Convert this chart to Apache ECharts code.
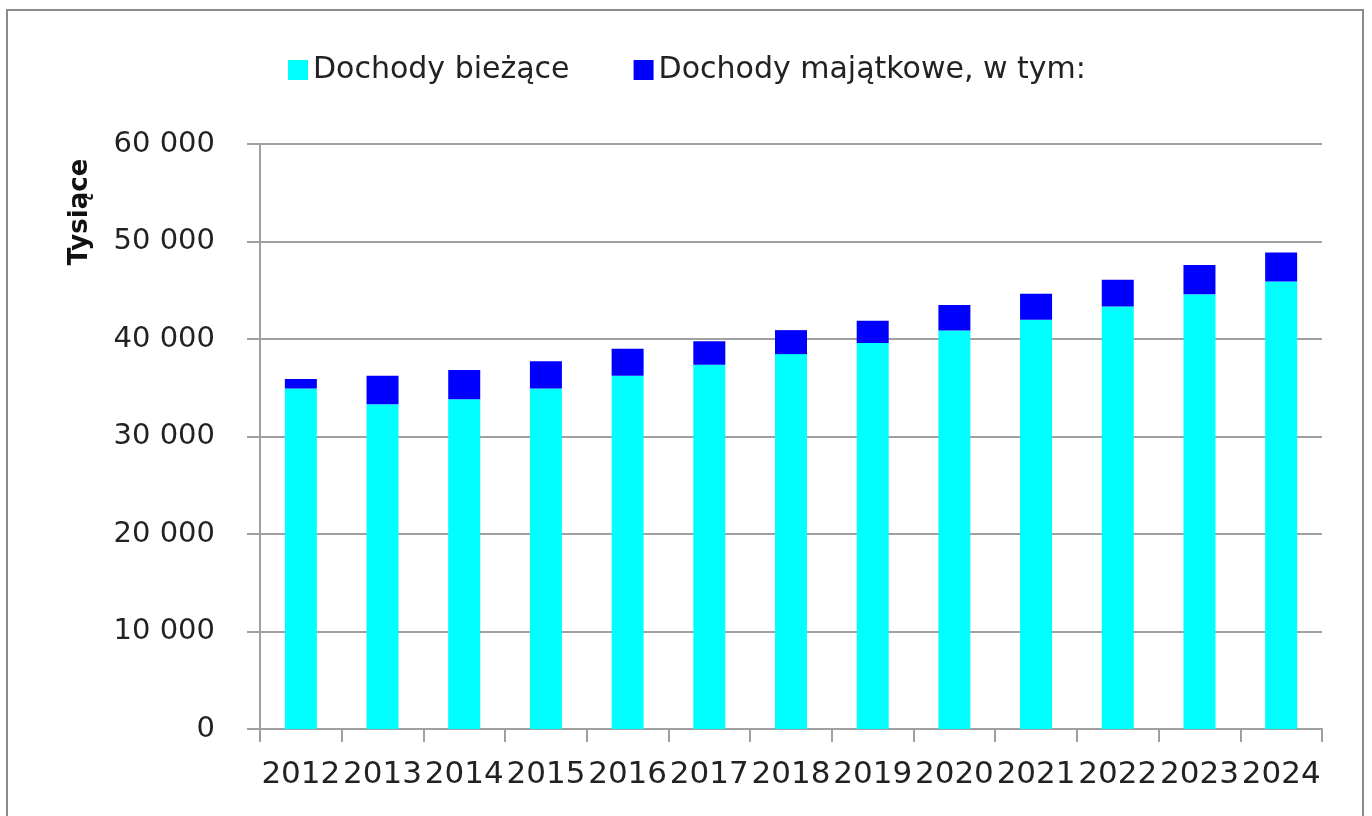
<!DOCTYPE html>
<html>
<head>
<meta charset="utf-8">
<script src="https://cdn.jsdelivr.net/npm/echarts@6/dist/echarts.min.js"></script>
<style>
  html, body { margin: 0; padding: 0; background: #fff; }
  #main { width: 1372px; height: 816px; }
</style>
</head>
<body>
<div id="main"></div>
<script>
// lata
const years = ["2012", "2013", "2014", "2015", "2016", "2017", "2018", "2019", "2020", "2021", "2022", "2023", "2024"];
// tys. zł
const dochodyBiezace = [34920, 33320, 33830, 34920, 36230, 37360, 38450, 39580, 40870, 41970, 43330, 44600, 45900];
const dochodyMajatkowe = [970, 2910, 2980, 2810, 2770, 2420, 2460, 2290, 2630, 2670, 2740, 3000, 2970];
const seriesNames = ["Dochody bieżące", "Dochody majątkowe, w tym:"];

const font = "DejaVu Sans";
const myChart = echarts.init(document.getElementById("main"));

function fmt(v) {
  // 60000 -> "60 000"
  return String(v).replace(/\B(?=(\d{3})+(?!\d))/g, " ");
}

const option = {
  backgroundColor: "#fff",
  animation: false,
  color: ["#00FFFF", "#0000FF"],
  textStyle: { fontFamily: font },
  legend: {
    data: seriesNames,
    left: 283,
    top: 50,
    itemWidth: 20,
    itemHeight: 20,
    itemGap: 64,
    icon: "rect",
    textStyle: { fontFamily: font, fontSize: 30, color: "#222" }
  },
  grid: {
    left: 260,
    right: 50,
    top: 144,
    bottom: 87,
    containLabel: false
  },
  xAxis: {
    type: "category",
    data: years,
    axisLine: { lineStyle: { color: "#a0a0a0", width: 2 } },
    axisTick: { show: true, length: 13, lineStyle: { color: "#a0a0a0", width: 2 } },
    axisLabel: {
      interval: 0,
      margin: 30,
      fontFamily: font,
      fontSize: 31,
      color: "#222"
    },
    splitLine: { show: false }
  },
  yAxis: {
    type: "value",
    min: 0,
    max: 60000,
    interval: 10000,
    axisLine: { show: true, lineStyle: { color: "#a0a0a0", width: 2 } },
    axisTick: { show: true, length: 13, lineStyle: { color: "#a0a0a0", width: 2 } },
    axisLabel: {
      margin: 45,
      fontFamily: font,
      fontSize: 29,
      color: "#222",
      formatter: fmt
    },
    splitLine: { show: true, lineStyle: { color: "#a0a0a0", width: 2 } }
  },
  graphic: [
    {
      type: "rect",
      silent: true,
      shape: { x: 7, y: 10, width: 1356, height: 830 },
      style: { fill: "none", stroke: "#8c8c8c", lineWidth: 2 }
    },
    {
      type: "text",
      x: 80,
      y: 212,
      rotation: Math.PI / 2,
      style: {
        text: "Tysiące",
        fontFamily: font,
        fontSize: 26,
        fontWeight: "bold",
        fill: "#111",
        align: "center",
        verticalAlign: "middle"
      }
    }
  ],
  series: [
    {
      name: seriesNames[0],
      type: "bar",
      stack: "total",
      barWidth: 32,
      data: dochodyBiezace
    },
    {
      name: seriesNames[1],
      type: "bar",
      stack: "total",
      barWidth: 32,
      data: dochodyMajatkowe
    }
  ]
};

option && myChart.setOption(option);
</script>
</body>
</html>
